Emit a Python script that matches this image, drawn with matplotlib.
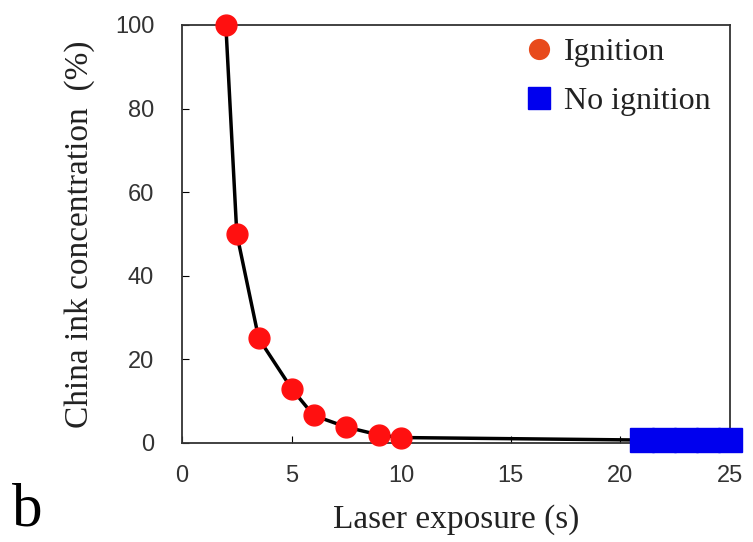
import matplotlib.pyplot as plt

# exposure time (s) vs china ink concentration (%)
ign_x = [2, 2.5, 3.5, 5, 6, 7.5, 9, 10]
ign_y = [100, 50, 25, 13, 6.6, 3.8, 1.9, 1.3]
noign_x = [21, 22, 23, 24, 25]
noign_y = [0.7, 0.7, 0.7, 0.7, 0.7]

xticks = [0, 5, 10, 15, 20, 25]
yticks = [0, 20, 40, 60, 80, 100]

fig = plt.figure(figsize=(7.53, 5.42), dpi=100)
ax = fig.add_axes([0.2417, 0.1827, 0.7278, 0.7712])

ax.plot(ign_x + noign_x, ign_y + noign_y, color="black", lw=2.5, zorder=2, clip_on=False)
ax.plot(ign_x, ign_y, "o", color="#ff1010", markersize=15, zorder=3, clip_on=False,
        label="Ignition")
ax.plot(noign_x, noign_y, "s", color="#0000ee", markersize=17, zorder=3, clip_on=False,
        label="No ignition")

ax.set_xlim(0, 25)
ax.set_ylim(0, 100)
ax.set_xticks(xticks)
ax.set_yticks(yticks)
ax.tick_params(direction="in", length=5, labelsize=17)
ax.tick_params(axis="x", pad=16)
ax.tick_params(axis="y", pad=20)
for lab in ax.get_xticklabels() + ax.get_yticklabels():
    lab.set_family("Liberation Sans")
    lab.set_color("#333333")
for s in ax.spines.values():
    s.set_linewidth(1.3)
    s.set_color("#333333")

ax.set_xlabel("Laser exposure (s)", fontsize=24, family="Liberation Serif", labelpad=12,
              color="#222222")
ax.set_ylabel("China ink concentration  (%)", fontsize=24, family="Liberation Serif",
              labelpad=14, color="#222222")

leg = ax.legend(loc="upper right", frameon=False,
                prop={"family": "Liberation Serif", "size": 23},
                handletextpad=0.3, handlelength=1.0, markerscale=0.95, labelspacing=0.6,
                borderpad=0.1, bbox_to_anchor=(1.0, 1.015))
leg.legend_handles[0].set_color("#e84a1c")
for t in leg.get_texts():
    t.set_color("#222222")

fig.text(0.016, 0.03, "b", fontsize=44, family="Liberation Serif")

fig.savefig("out.png", dpi=100)
